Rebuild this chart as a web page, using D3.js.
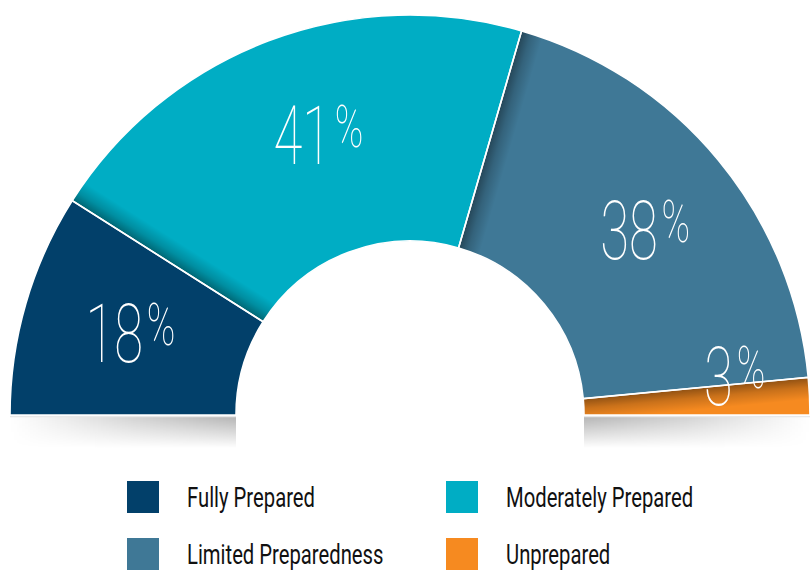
<!DOCTYPE html>
<html>
<head>
<meta charset="utf-8">
<script src="https://cdn.jsdelivr.net/npm/d3@7"></script>
<style>
  html, body { margin: 0; padding: 0; background: #fff; }
  svg { display: block; }
</style>
</head>
<body>
<svg id="chart" width="810" height="571"></svg>
<script>
// ---- data ----
const categories = ["Fully Prepared", "Moderately Prepared", "Limited Preparedness", "Unprepared"];
const values = [18, 41, 38, 3];
const labels = ["18", "41", "38", "3"];
const colors = ["#02406A", "#00ADC4", "#3F7896", "#F68A20"];
const labelOffsets = [[-4, -2], [10, -12], [14, -2], [38, -25]];

// ---- layout ----
const W = 810, H = 571;
const cx = 410, cy = 415, R = 400, r = 174;
const svg = d3.select("#chart");
const defs = svg.append("defs");

const pie = d3.pie().sort(null).startAngle(-Math.PI / 2).endAngle(Math.PI / 2);
const arcs = pie(values);
const arc = d3.arc().innerRadius(r).outerRadius(R);

// ---- bottom shadow ----
const vg = defs.append("linearGradient").attr("id", "vfade").attr("x1", 0).attr("y1", 0).attr("x2", 0).attr("y2", 1);
vg.append("stop").attr("offset", 0).attr("stop-color", "#fff").attr("stop-opacity", 1);
vg.append("stop").attr("offset", 1).attr("stop-color", "#fff").attr("stop-opacity", 0);

function hShadow(id, dirLeftDark) {
  const g = defs.append("linearGradient").attr("id", id).attr("x1", 0).attr("y1", 0).attr("x2", 1).attr("y2", 0);
  const stops = dirLeftDark
    ? [[0, 0.30], [0.45, 0.18], [1, 0.0]]
    : [[0, 0.0], [0.55, 0.18], [1, 0.30]];
  stops.forEach(s => g.append("stop").attr("offset", s[0]).attr("stop-color", "#000").attr("stop-opacity", s[1]));
}
hShadow("shL", false);
hShadow("shR", true);
const mask = defs.append("mask").attr("id", "vmask").attr("maskUnits", "userSpaceOnUse")
  .attr("x", 0).attr("y", cy).attr("width", W).attr("height", 40);
mask.append("rect").attr("x", 0).attr("y", cy + 1).attr("width", W).attr("height", 32).attr("fill", "url(#vfade)");

const shadowG = svg.append("g").attr("mask", "url(#vmask)");
shadowG.append("rect").attr("x", cx - R).attr("y", cy + 1).attr("width", R - r).attr("height", 32).attr("fill", "url(#shL)");
shadowG.append("rect").attr("x", cx + r).attr("y", cy + 1).attr("width", R - r).attr("height", 32).attr("fill", "url(#shR)");
svg.append("line").attr("x1", cx - R).attr("x2", cx - r).attr("y1", cy + 1.5).attr("y2", cy + 1.5).attr("stroke", "#e8e8e8").attr("stroke-width", 1.5);
svg.append("line").attr("x1", cx + r).attr("x2", cx + R).attr("y1", cy + 1.5).attr("y2", cy + 1.5).attr("stroke", "#e8e8e8").attr("stroke-width", 1.5);

// ---- slices ----
const g = svg.append("g").attr("transform", `translate(${cx},${cy})`);
g.selectAll("path.slice").data(arcs).join("path")
  .attr("class", "slice")
  .attr("d", arc)
  .attr("fill", (d, i) => colors[i]);

// inner shadows along each slice's start edge
const rm = (r + R) / 2;
arcs.forEach((d, i) => {
  if (i === 0) return;
  const a = d.startAngle;
  const px = rm * Math.sin(a), py = -rm * Math.cos(a);
  const dx = Math.cos(a), dy = Math.sin(a);
  const id = "edge" + i;
  const lg = defs.append("linearGradient").attr("id", id).attr("gradientUnits", "userSpaceOnUse")
    .attr("x1", px).attr("y1", py).attr("x2", px + dx * 22).attr("y2", py + dy * 22);
  lg.append("stop").attr("offset", 0).attr("stop-color", "#000").attr("stop-opacity", 0.42);
  lg.append("stop").attr("offset", 0.45).attr("stop-color", "#000").attr("stop-opacity", 0.18);
  lg.append("stop").attr("offset", 1).attr("stop-color", "#000").attr("stop-opacity", 0);
  const wedge = d3.arc().innerRadius(r).outerRadius(R)
    .startAngle(a).endAngle(Math.min(a + 0.12, d.endAngle));
  g.append("path").attr("d", wedge()).attr("fill", `url(#${id})`);
});

// separators
g.selectAll("path.outline").data(arcs).join("path")
  .attr("class", "outline")
  .attr("d", arc)
  .attr("fill", "none")
  .attr("stroke", "#fff")
  .attr("stroke-width", 1.6);

// ---- value labels ----
const labelArc = d3.arc().innerRadius(r).outerRadius(R);
arcs.forEach((d, i) => {
  const [x, y] = labelArc.centroid(d);
  const lg = g.append("g")
    .attr("transform", `translate(${x + labelOffsets[i][0]},${y + labelOffsets[i][1]}) scale(0.64,1)`);
  const t = lg.append("text")
    .attr("text-anchor", "middle")
    .attr("y", 29)
    .attr("fill", "#fff")
    .style("font-family", "Roboto, 'DejaVu Sans', sans-serif")
    .style("font-weight", 100);
  t.append("tspan").text(labels[i]).style("font-size", "82px");
  t.append("tspan").text("%").style("font-size", "60px").attr("dx", 6).attr("dy", -17);
});

// ---- legend ----
const legendItems = categories.map((c, i) => ({ c, i }));
const cols = [127, 446], rows = [481, 538];
const lgd = svg.append("g");
legendItems.forEach(({ c, i }) => {
  const col = i % 2, row = Math.floor(i / 2);
  const x = cols[col], y = rows[row];
  lgd.append("rect").attr("x", x).attr("y", y).attr("width", 32).attr("height", 32).attr("fill", colors[i]);
  lgd.append("g").attr("transform", `translate(${x + 60},${y + 26}) scale(0.75,1)`)
    .append("text")
    .attr("fill", "#111")
    .style("font-family", "Roboto, sans-serif")
    .style("font-size", "27px")
    .style("font-weight", 400)
    .text(c);
});
</script>
</body>
</html>
